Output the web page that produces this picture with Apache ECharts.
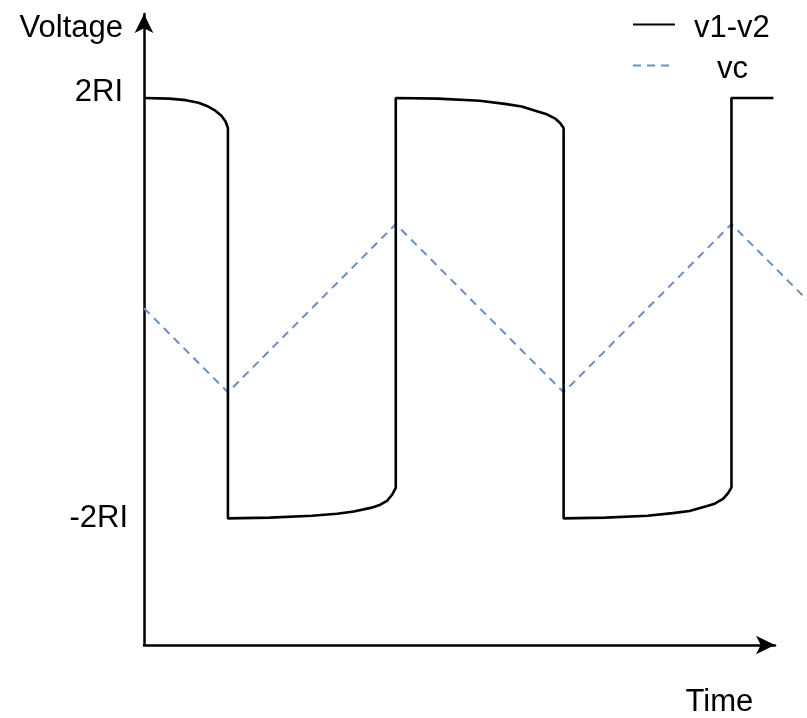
<!DOCTYPE html>
<html>
<head>
<meta charset="utf-8">
<script src="https://cdn.jsdelivr.net/npm/echarts@6/dist/echarts.min.js"></script>
<style>
  html, body { margin: 0; padding: 0; background: #fff; }
  #chart { width: 807px; height: 718px; }
</style>
</head>
<body>
<div id="chart"></div>
<script>
// v1-v2: square-ish wave with a slow droop before each switch
const v12Time = [
  0, 0.3, 0.5, 0.65, 0.75, 0.85, 0.92, 0.97, 1.0,
  1.0, 1.5, 2.0, 2.3, 2.5, 2.7, 2.8, 2.9, 2.96, 3.0,
  3.0, 3.5, 4.0, 4.3, 4.5, 4.7, 4.8, 4.9, 4.96, 5.0,
  5.0, 5.5, 6.0, 6.3, 6.5, 6.7, 6.8, 6.9, 6.96, 7.0,
  7.0, 7.5
];
const v12Values = [
  2.0, 1.995, 1.98, 1.955, 1.925, 1.88, 1.835, 1.78, 1.715,
  -2.0, -1.993, -1.975, -1.955, -1.935, -1.9, -1.875, -1.83, -1.77, -1.71,
  2.0, 1.995, 1.975, 1.945, 1.92, 1.87, 1.845, 1.805, 1.76, 1.715,
  -2.0, -1.993, -1.975, -1.95, -1.93, -1.885, -1.86, -1.815, -1.76, -1.705,
  2.0, 2.0
];

// vc: triangle wave
const vcTime = [0, 1, 3, 5, 7, 7.9];
const vcValues = [0, -0.8, 0.8, -0.8, 0.8, 0.08];

// y-axis tick labels
const yTickValues = [2, -2];
const yTickLabels = ['2RI', '-2RI'];

const seriesNames = ['v1-v2', 'vc'];
const axisNames = { x: 'Time', y: 'Voltage' };

const pairs = (xs, ys) => xs.map((x, i) => [x, ys[i]]);
const FONT = 'Liberation Sans, Arial, Helvetica, sans-serif';

// time scale: px per time unit shared by both grids
const PX_PER_T = 631 / 7.5;
const Y_MIN = -3.2, Y_MAX = 2.8;

const baseText = { fontSize: 31, fontFamily: FONT, color: '#000' };

const chart = echarts.init(document.getElementById('chart'), null, { renderer: 'canvas' });

const legendEntry = (name, top, iconWidth, textIndent) => ({
  data: [name],
  left: 627, top: top,
  itemWidth: iconWidth, itemHeight: 14,
  itemGap: 0,
  itemStyle: { opacity: 0 },
  formatter: (n) => '{a|' + n + '}',
  textStyle: Object.assign({}, baseText, {
    rich: { a: Object.assign({}, baseText, { padding: [8, 0, 0, textIndent] }) }
  })
});

chart.setOption({
  animation: false,
  backgroundColor: '#ffffff',
  grid: [
    // data area: runs to the right edge so the dashed trace can leave the frame
    { left: 144, top: 14, width: 7.9 * PX_PER_T, height: 631 },
    // axis frame: the time axis arrow stops short of the edge
    { left: 144, top: 14, width: 7.5 * PX_PER_T, height: 631 }
  ],
  legend: [
    legendEntry(seriesNames[0], 8, 42, 14),
    legendEntry(seriesNames[1], 49, 37, 42)
  ],
  xAxis: [
    {
      type: 'value',
      gridIndex: 0,
      min: 0, max: 7.9,
      offset: 58,
      name: axisNames.x,
      nameLocation: 'end',
      nameGap: -(7.9 * PX_PER_T - 577),
      nameTextStyle: Object.assign({}, baseText, { align: 'center', verticalAlign: 'middle' }),
      axisLine: { show: false, onZero: false },
      axisTick: { show: false },
      axisLabel: { show: false },
      splitLine: { show: false }
    },
    {
      type: 'value',
      gridIndex: 1,
      min: 0, max: 7.5,
      axisLine: {
        onZero: false,
        symbol: ['none', 'arrow'],
        symbolSize: [14, 19],
        lineStyle: { color: '#000', width: 2.5 }
      },
      axisTick: { show: false },
      axisLabel: { show: false },
      splitLine: { show: false }
    }
  ],
  yAxis: [
    {
      type: 'value',
      gridIndex: 0,
      min: Y_MIN, max: Y_MAX,
      name: axisNames.y,
      nameLocation: 'end',
      nameGap: -14,
      nameTextStyle: Object.assign({}, baseText, { align: 'right', verticalAlign: 'middle', padding: [0, 21, 0, 0] }),
      axisLine: {
        onZero: false,
        symbol: ['none', 'arrow'],
        symbolSize: [14, 19],
        lineStyle: { color: '#000', width: 2.5 }
      },
      axisTick: { show: false },
      axisLabel: {
        customValues: yTickValues,
        formatter: (v) => {
          const i = yTickValues.indexOf(v);
          if (i < 0) return '';
          return (i === 0 ? '{t|' : '{b|') + yTickLabels[i] + '}';
        },
        margin: 16,
        rich: {
          t: Object.assign({}, baseText, { padding: [0, 5, 12, 0] }),
          b: Object.assign({}, baseText, { padding: [0, 0, 0, 0] })
        }
      },
      splitLine: { show: false }
    },
    {
      type: 'value',
      gridIndex: 1,
      min: Y_MIN, max: Y_MAX,
      show: false
    }
  ],
  series: [
    {
      name: seriesNames[0],
      type: 'line',
      xAxisIndex: 0, yAxisIndex: 0,
      data: pairs(v12Time, v12Values),
      symbol: 'none',
      smooth: false,
      lineStyle: { color: '#000', width: 2.6 },
      itemStyle: { color: '#000' },
      z: 3
    },
    {
      name: seriesNames[1],
      type: 'line',
      xAxisIndex: 0, yAxisIndex: 0,
      data: pairs(vcTime, vcValues),
      symbol: 'none',
      lineStyle: { color: '#6c8ebf', width: 2, type: [8, 6] },
      itemStyle: { color: '#6c8ebf' },
      z: 2
    }
  ]
});
</script>
</body>
</html>
